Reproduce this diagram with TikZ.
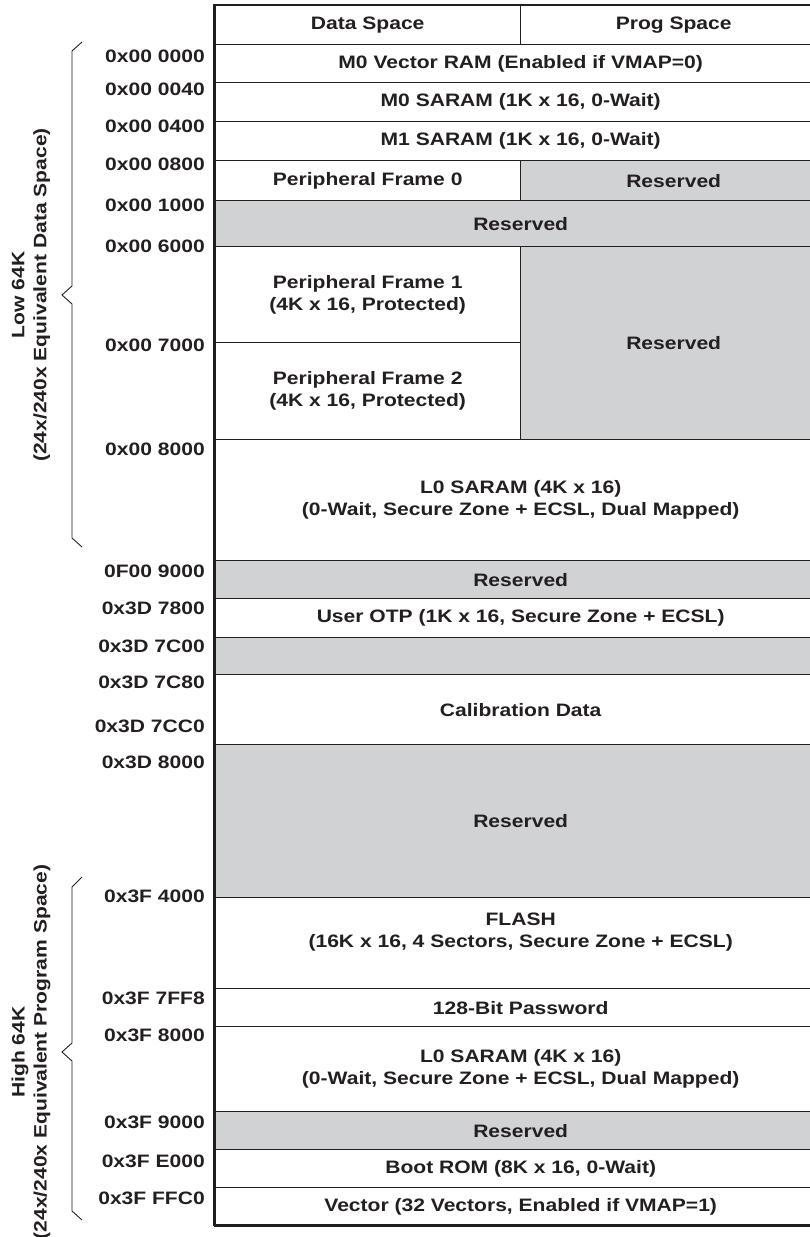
\documentclass[tikz,border=0pt]{standalone}
\usepackage{fontspec}
\newfontfamily\mapfont{Liberation Sans}[FakeStretch=1.17]
\usetikzlibrary{positioning}
\definecolor{inkgray}{RGB}{35,31,32}
\definecolor{rsvfill}{RGB}{209,210,212}
\newcommand{\mapfnt}{\mapfont\bfseries\fontsize{18}{22}\selectfont}
\tikzset{
  cell/.style ={rectangle, draw=inkgray, line width=1.4pt, fill=white, anchor=north west,
                inner sep=0pt, align=center, text=inkgray, font=\mapfnt},
  rsv/.style  ={cell, fill=rsvfill},
  addr/.style ={anchor=east, inner sep=0pt, text=inkgray, font=\mapfnt},
  side/.style ={rotate=90, inner sep=0pt, align=center, text=inkgray, font=\mapfnt},
  brc/.style  ={draw=inkgray, line width=0.9pt},
  frame/.style={draw=inkgray, line width=3pt},
}
\begin{document}
\begin{tikzpicture}[x=1pt, y=-1pt]
  \useasboundingbox (0,0) rectangle (810,1237);
  % header
  \node[cell, minimum width=306pt, minimum height=39pt] (hdata) at (214,5) {Data Space};
  \node[cell, minimum width=306pt, minimum height=39pt] (hprog) at (520,5) {Prog Space};
  % low 64K
  \node[cell, minimum width=612pt, minimum height=38pt] (m0vec) at (214,44) {M0 Vector RAM (Enabled if VMAP=0)};
  \node[cell, minimum width=612pt, minimum height=39pt] (m0) at (214,82) {M0 SARAM (1K x 16, 0-Wait)};
  \node[cell, minimum width=612pt, minimum height=39pt] (m1) at (214,121) {M1 SARAM (1K x 16, 0-Wait)};
  \node[cell, minimum width=306pt, minimum height=40pt] (pf0) at (214,160) {Peripheral Frame 0};
  \node[rsv,  minimum width=306pt, minimum height=40pt] (rsva) at (520,160) {Reserved};
  \node[rsv,  minimum width=612pt, minimum height=46pt] (rsvb) at (214,200) {Reserved};
  \node[cell, minimum width=306pt, minimum height=96pt] (pf1) at (214,246) {Peripheral Frame 1\\(4K x 16, Protected)};
  \node[cell, minimum width=306pt, minimum height=97pt] (pf2) at (214,342) {Peripheral Frame 2\\(4K x 16, Protected)};
  \node[rsv,  minimum width=306pt, minimum height=193pt] (rsvc) at (520,246) {Reserved};
  \node[cell, minimum width=612pt, minimum height=121pt] (l0lo) at (214,439) {L0 SARAM (4K x 16)\\(0-Wait, Secure Zone + ECSL, Dual Mapped)};
  % middle
  \node[rsv,  minimum width=612pt, minimum height=38pt] (rsvd) at (214,560) {Reserved};
  \node[cell, minimum width=612pt, minimum height=39pt] (otp) at (214,598) {User OTP (1K x 16, Secure Zone + ECSL)};
  \node[rsv,  minimum width=612pt, minimum height=37pt] (rsve) at (214,637) {};
  \node[cell, minimum width=612pt, minimum height=70pt] (cal) at (214,674) {Calibration Data};
  \node[rsv,  minimum width=612pt, minimum height=153pt] (rsvf) at (214,744) {Reserved};
  % high 64K
  \node[cell, minimum width=612pt, minimum height=91pt] (flash) at (214,897) {FLASH\\(16K x 16, 4 Sectors, Secure Zone + ECSL)\\[4pt]};
  \node[cell, minimum width=612pt, minimum height=38pt] (pwd) at (214,988) {128-Bit Password};
  \node[cell, minimum width=612pt, minimum height=85pt] (l0hi) at (214,1026) {L0 SARAM (4K x 16)\\(0-Wait, Secure Zone + ECSL, Dual Mapped)};
  \node[rsv,  minimum width=612pt, minimum height=38pt] (rsvg) at (214,1111) {Reserved};
  \node[cell, minimum width=612pt, minimum height=38pt] (boot) at (214,1149) {Boot ROM (8K x 16, 0-Wait)};
  \node[cell, minimum width=612pt, minimum height=38pt] (vec) at (214,1187) {Vector (32 Vectors, Enabled if VMAP=1)};
  % outer frame
  \draw[frame] (214,4) -- (214,1226);
  \draw[draw=inkgray, line width=2pt] (214,5) -- (826,5);
  \draw[frame] (214,1225) -- (826,1225);
  % addresses
  \node[addr] (a0)  at (205,56)   {0x00 0000};
  \node[addr] (a1)  at (205,89)   {0x00 0040};
  \node[addr] (a2)  at (205,126)  {0x00 0400};
  \node[addr] (a3)  at (205,164)  {0x00 0800};
  \node[addr] (a4)  at (205,205)  {0x00 1000};
  \node[addr] (a5)  at (205,246)  {0x00 6000};
  \node[addr] (a6)  at (205,345)  {0x00 7000};
  \node[addr] (a7)  at (205,449)  {0x00 8000};
  \node[addr] (a8)  at (205,571)  {0F00 9000};
  \node[addr] (a9)  at (205,608)  {0x3D 7800};
  \node[addr] (a10) at (205,646)  {0x3D 7C00};
  \node[addr] (a11) at (205,682)  {0x3D 7C80};
  \node[addr] (a12) at (205,726)  {0x3D 7CC0};
  \node[addr] (a13) at (205,762)  {0x3D 8000};
  \node[addr] (a14) at (205,896)  {0x3F 4000};
  \node[addr] (a15) at (205,998)  {0x3F 7FF8};
  \node[addr] (a16) at (205,1035) {0x3F 8000};
  \node[addr] (a17) at (205,1122) {0x3F 9000};
  \node[addr] (a18) at (205,1161) {0x3F E000};
  \node[addr] (a19) at (205,1198) {0x3F FFC0};
  % braces
  \draw[brc] (82,42) -- (72,51) -- (72,286) -- (62,295) -- (72,304) -- (72,538) -- (82,547);
  \draw[brc] (82,877) -- (72,887) -- (72,1043) -- (62,1052) -- (72,1061) -- (72,1211) -- (82,1220);
  \node[side] (lowlbl)  at (31,295)  {Low 64K\\(24x/240x Equivalent Data Space)};
  \node[side] (highlbl) at (31,1052) {High 64K\\(24x/240x Equivalent Program Space)};
\end{tikzpicture}
\end{document}
